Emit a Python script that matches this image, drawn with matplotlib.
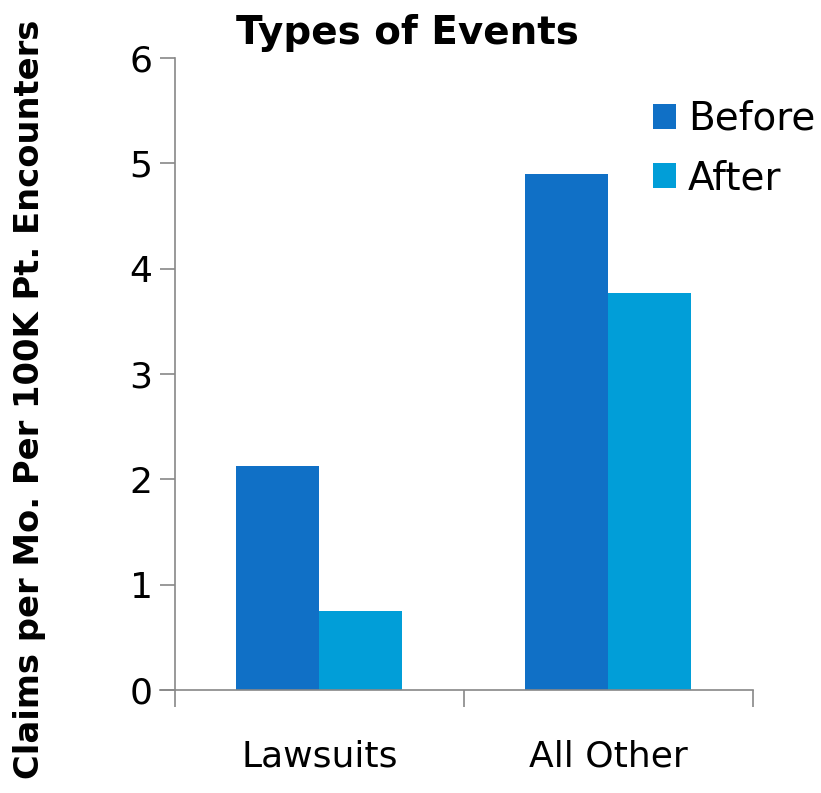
import matplotlib
matplotlib.use("Agg")
import matplotlib.pyplot as plt
import numpy as np

categories = ["Lawsuits", "All Other"]
before = [2.13, 4.90]
after = [0.75, 3.77]
series_names = ["Before", "After"]
colors = ["#1070C6", "#019ED8"]
yticks = [0, 1, 2, 3, 4, 5, 6]

plt.rcParams['font.family'] = ['DejaVu Sans']

fig = plt.figure(figsize=(8.21, 7.93), dpi=100)
ax = fig.add_axes([0.213, 0.130, 0.704, 0.797])

x = np.arange(len(categories))
w = 0.287
ax.bar(x - w/2, before, width=w, color=colors[0], label=series_names[0])
ax.bar(x + w/2, after, width=w, color=colors[1], label=series_names[1])

ax.set_xlim(-0.5, 1.5)
ax.set_ylim(0, 6)
ax.set_yticks(yticks)
ax.set_yticklabels([str(t) for t in yticks], fontsize=26)
ax.set_xticks(x)
ax.set_xticklabels(categories, fontsize=26)
ax.tick_params(axis='x', which='major', length=0, pad=36)
ax.set_xticks([-0.5, 0.5, 1.5], minor=True)
ax.tick_params(axis='x', which='minor', length=12, width=1.2, color='#888888', direction='out')
ax.tick_params(axis='y', length=11, width=1.2, color='#888888', pad=5)

for s in ['top', 'right']:
    ax.spines[s].set_visible(False)
for s in ['left', 'bottom']:
    ax.spines[s].set_color('#888888')
    ax.spines[s].set_linewidth(1.2)
ax.plot([-0.025, 0], [0, 0], transform=ax.transAxes, color='#888888', lw=1.2, clip_on=False)

fig.text(0.496, 0.958, "Types of Events", fontsize=28, fontweight='bold', ha='center', va='center')
fig.text(0.036, 0.497, "Claims per Mo. Per 100K Pt. Encounters", rotation=90,
         fontsize=24.3, fontweight='bold', ha='center', va='center')

leg = ax.legend(loc='upper right', bbox_to_anchor=(1.135, 0.958), frameon=False, fontsize=28,
                handlelength=0.6, handleheight=0.6, handletextpad=0.3, labelspacing=0.55,
                borderaxespad=0)

fig.savefig("out.png", dpi=100)
